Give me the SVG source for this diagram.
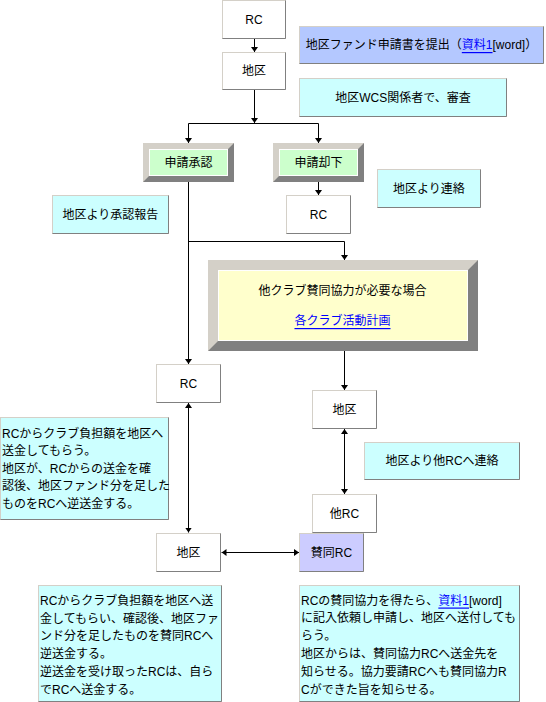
<svg xmlns="http://www.w3.org/2000/svg" width="546" height="702" viewBox="0 0 546 702">
<style>
.t{font-family:"Liberation Sans","Noto Sans CJK JP",sans-serif;font-size:12px;fill:#000;dominant-baseline:central}
.c{text-anchor:middle}
.lnk{fill:#0000ff;text-decoration:underline}
.bx{stroke:#d4d0c8;stroke-width:1}
.sh{fill:none;stroke:#808080;stroke-width:1}
.w{fill:#ffffff}
.cy{fill:#ccffff}
.bl{fill:#b4c8ff}
.pu{fill:#ccccff}
.lt{fill:#d4d0c8}
.dk{fill:#808080}
</style>
<defs>
<marker id="ah" viewBox="0 0 5 7" refX="5" refY="3.5" markerWidth="5" markerHeight="7" markerUnits="userSpaceOnUse" orient="auto-start-reverse">
<path d="M0,0 L5,3.5 L0,7 z" fill="#000"/>
</marker>
</defs>
<rect width="546" height="702" fill="#ffffff"/>

<g id="connectors" stroke="#000" stroke-width="1" fill="none">
<line x1="254.5" y1="39" x2="254.5" y2="52" marker-end="url(#ah)"/>
<line x1="254.5" y1="90" x2="254.5" y2="123" marker-end="url(#ah)"/>
<polyline points="188.5,143 188.5,123.5 318.5,123.5 318.5,143" marker-start="url(#ah)" marker-end="url(#ah)"/>
<line x1="318.5" y1="182" x2="318.5" y2="195" marker-end="url(#ah)"/>
<line x1="188.5" y1="182" x2="188.5" y2="364" marker-end="url(#ah)"/>
<polyline points="188.5,241.5 344.5,241.5 344.5,260" marker-end="url(#ah)"/>
<line x1="344.5" y1="351" x2="344.5" y2="390" marker-end="url(#ah)"/>
<line x1="188.5" y1="403" x2="188.5" y2="532.5" marker-start="url(#ah)" marker-end="url(#ah)"/>
<line x1="344.5" y1="429" x2="344.5" y2="494" marker-start="url(#ah)" marker-end="url(#ah)"/>
<line x1="221.5" y1="552.5" x2="299" y2="552.5" marker-start="url(#ah)" marker-end="url(#ah)"/>
</g>

<g id="n-rc-top">
<rect class="w bx" x="222.5" y="0.5" width="63" height="38"/>
<path class="sh" d="M285.5,0.5 V38.5 H222.5"/>
<text class="t c" x="254" y="19.5">RC</text>
</g>
<g id="n-chiku-top">
<rect class="w bx" x="222.5" y="52.5" width="63" height="37"/>
<path class="sh" d="M285.5,52.5 V89.5 H222.5"/>
<text class="t c" x="254" y="71">地区</text>
</g>
<g id="n-note-teishutsu">
<rect class="bl bx" x="299.5" y="26.5" width="244" height="37"/>
<path class="sh" d="M543.5,26.5 V63.5 H299.5"/>
<text class="t c" x="421.5" y="45">地区ファンド申請書を提出（<tspan class="lnk">資料1</tspan>[word]）</text>
</g>
<g id="n-note-shinsa">
<rect class="cy bx" x="299.5" y="78.5" width="207" height="38"/>
<path class="sh" d="M506.5,78.5 V116.5 H299.5"/>
<text class="t c" x="403" y="97.5">地区WCS関係者で、審査</text>
</g>

<g id="n-shonin">
<rect class="lt" x="143" y="143" width="91" height="39"/>
<polygon class="dk" points="234,143 234,182 143,182 149,176 228,176 228,149"/>
<rect x="149.5" y="149.5" width="78" height="26" fill="#ccffcc" stroke="#ffffff"/>
<text class="t c" x="188.5" y="162.5">申請承認</text>
</g>
<g id="n-kyakka">
<rect class="lt" x="273" y="143" width="91" height="39"/>
<polygon class="dk" points="364,143 364,182 273,182 279,176 358,176 358,149"/>
<rect x="279.5" y="149.5" width="78" height="26" fill="#ccffcc" stroke="#ffffff"/>
<text class="t c" x="318.5" y="162.5">申請却下</text>
</g>
<g id="n-note-renraku">
<rect class="cy bx" x="377.5" y="169.5" width="103" height="38"/>
<path class="sh" d="M480.5,169.5 V207.5 H377.5"/>
<text class="t c" x="429" y="188.5">地区より連絡</text>
</g>
<g id="n-note-shoninhokoku">
<rect class="cy bx" x="52.5" y="195.5" width="116" height="38"/>
<path class="sh" d="M168.5,195.5 V233.5 H52.5"/>
<text class="t c" x="110.5" y="214.5">地区より承認報告</text>
</g>
<g id="n-rc-kyakka">
<rect class="w bx" x="286.5" y="195.5" width="64" height="38"/>
<path class="sh" d="M350.5,195.5 V233.5 H286.5"/>
<text class="t c" x="318.5" y="214.5">RC</text>
</g>

<g id="n-tacrub">
<rect class="lt" x="208" y="260" width="270" height="91"/>
<polygon class="dk" points="478,260 478,351 208,351 218,341 468,341 468,270"/>
<rect x="218.5" y="270.5" width="249" height="70" fill="#ffffcc" stroke="#ffffff"/>
<text class="t c" x="342.5" y="291">他クラブ賛同協力が必要な場合</text>
<text class="t c lnk" x="342.5" y="321">各クラブ活動計画</text>
</g>

<g id="n-rc-left">
<rect class="w bx" x="156.5" y="364.5" width="64" height="38"/>
<path class="sh" d="M220.5,364.5 V402.5 H156.5"/>
<text class="t c" x="188.5" y="383.5">RC</text>
</g>
<g id="n-chiku-right">
<rect class="w bx" x="312.5" y="390.5" width="64" height="38"/>
<path class="sh" d="M376.5,390.5 V428.5 H312.5"/>
<text class="t c" x="344.5" y="409.5">地区</text>
</g>
<g id="n-note-left">
<rect class="cy bx" x="0.5" y="417.5" width="168" height="102"/>
<path class="sh" d="M168.5,417.5 V519.5 H0.5"/>
<text class="t" x="2" y="433.5">RCからクラブ負担額を地区へ</text>
<text class="t" x="2" y="451">送金してもらう。</text>
<text class="t" x="2" y="468.5">地区が、RCからの送金を確</text>
<text class="t" x="2" y="486">認後、地区ファンド分を足した</text>
<text class="t" x="2" y="503.5">ものをRCへ逆送金する。</text>
</g>
<g id="n-note-tarc">
<rect class="cy bx" x="364.5" y="442.5" width="155" height="37"/>
<path class="sh" d="M519.5,442.5 V479.5 H364.5"/>
<text class="t c" x="442" y="461">地区より他RCへ連絡</text>
</g>
<g id="n-tarc">
<rect class="w bx" x="312.5" y="494.5" width="64" height="38"/>
<path class="sh" d="M376.5,494.5 V532.5 H312.5"/>
<text class="t c" x="344.5" y="513.5">他RC</text>
</g>
<g id="n-chiku-bottom">
<rect class="w bx" x="156.5" y="533.5" width="64" height="38"/>
<path class="sh" d="M220.5,533.5 V571.5 H156.5"/>
<text class="t c" x="188.5" y="552.5">地区</text>
</g>
<g id="n-sandorc">
<rect class="pu bx" x="299.5" y="533.5" width="64" height="38"/>
<path class="sh" d="M363.5,533.5 V571.5 H299.5"/>
<text class="t c" x="331.5" y="552.5">賛同RC</text>
</g>

<g id="n-note-bottom-left">
<rect class="cy bx" x="38.5" y="585.5" width="183" height="116"/>
<path class="sh" d="M221.5,585.5 V701.5 H38.5"/>
<text class="t" x="40" y="601">RCからクラブ負担額を地区へ送</text>
<text class="t" x="40" y="618.5">金してもらい、確認後、地区ファ</text>
<text class="t" x="40" y="636">ンド分を足したものを賛同RCへ</text>
<text class="t" x="40" y="653.5">逆送金する。</text>
<text class="t" x="40" y="672">逆送金を受け取ったRCは、自ら</text>
<text class="t" x="40" y="689.5">でRCへ送金する。</text>
</g>
<g id="n-note-bottom-right">
<rect class="cy bx" x="299.5" y="585.5" width="220" height="116"/>
<path class="sh" d="M519.5,585.5 V701.5 H299.5"/>
<text class="t" x="301" y="600.5">RCの賛同協力を得たら、<tspan class="lnk">資料1</tspan>[word]</text>
<text class="t" x="301" y="618">に記入依頼し申請し、地区へ送付しても</text>
<text class="t" x="301" y="635.5">らう。</text>
<text class="t" x="301" y="653.5">地区からは、賛同協力RCへ送金先を</text>
<text class="t" x="301" y="672">知らせる。協力要請RCへも賛同協力R</text>
<text class="t" x="301" y="690">Cができた旨を知らせる。</text>
</g>
</svg>
